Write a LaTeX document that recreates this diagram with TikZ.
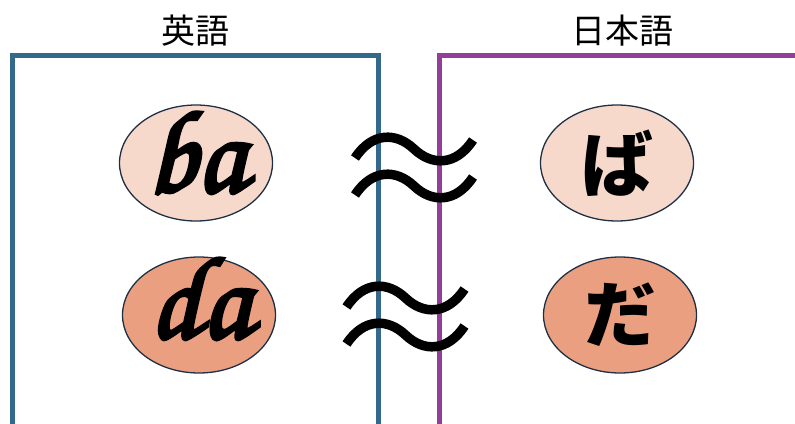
\documentclass[tikz,border=0pt]{standalone}
\usepackage{fontspec}
\usetikzlibrary{shapes.geometric}
\newfontfamily\jp{Noto Sans CJK JP}
\newfontfamily\hand[FakeBold=3]{texgyrechorus-mediumitalic.otf}

\definecolor{engline}{HTML}{33698A}
\definecolor{jpnline}{HTML}{943E97}
\definecolor{softfill}{HTML}{F7D9CC}
\definecolor{strongfill}{HTML}{EA9F81}
\definecolor{rim}{HTML}{1F3045}

\tikzset{
  panel/.style={line width=5pt},
  syll/.style={ellipse, draw=rim, line width=1.3pt, minimum width=153pt,
    minimum height=116pt, inner sep=0pt},
  latin/.style={font=\hand\fontsize{118}{118}\selectfont, anchor=base, inner sep=0pt},
  kana/.style={font=\jp\bfseries\fontsize{72}{72}\selectfont},
  heading/.style={font=\jp\fontsize{34}{34}\selectfont, inner sep=0pt},
  wave/.style={line width=9.5pt, black}
}

% one wavy stroke of the "approximately equal" sign, centred at (#1,#2)
\newcommand{\wavestroke}[2]{%
  \draw[wave, shift={(#1,#2)}] (-59,9) .. controls (-42,-17) and (-18,-17) .. (0,0)
    .. controls (18,17) and (42,17) .. (59,-9);}

\begin{document}
\begin{tikzpicture}[x=1pt, y=-1pt]
  \useasboundingbox (0,0) rectangle (795,423);

  % column headings
  \node[heading] (en) at (195,31) {英語};
  \node[heading] (ja) at (622,31) {日本語};

  % the two open panels
  \coordinate (enbl) at (12.5,426);
  \coordinate (entl) at (12.5,55);
  \coordinate (entr) at (378,55);
  \coordinate (enbr) at (378,426);
  \draw[panel, engline] (enbl) -- (entl) -- (entr) -- (enbr);

  \coordinate (jabl) at (439,426);
  \coordinate (jatl) at (439,55);
  \coordinate (jatr) at (800,55);
  \draw[panel, jpnline] (jabl) -- (jatl) -- (jatr);

  % syllables
  \node[syll, fill=softfill] (ba) at (196,163) {};
  \node[latin] (batext) at (196,192) {ba};
  \node[syll, fill=strongfill] (da) at (199,315) {};
  \node[latin] (datext) at (200,338) {da};
  \node[syll, fill=softfill, kana] (bajp) at (617,163) {ば};
  \node[syll, fill=strongfill, kana] (dajp) at (620,315) {だ};

  % approximately-equal signs between the columns
  \wavestroke{414}{149}
  \wavestroke{414}{186}
  \wavestroke{405.5}{298}
  \wavestroke{405.5}{335}
\end{tikzpicture}
\end{document}
